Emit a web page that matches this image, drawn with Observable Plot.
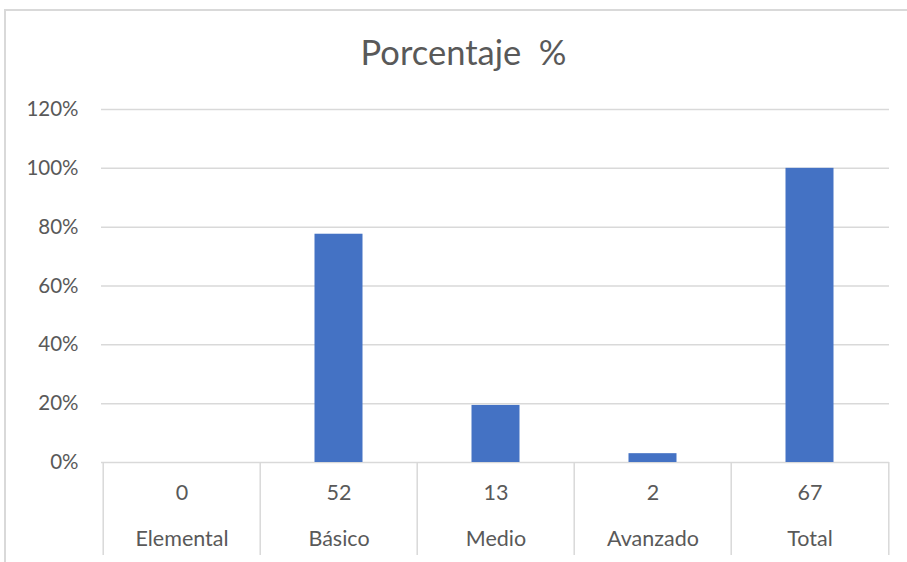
<!DOCTYPE html>
<html>
<head>
<meta charset="utf-8">
<script src="https://cdn.jsdelivr.net/npm/d3@7"></script>
<script src="https://cdn.jsdelivr.net/npm/@observablehq/plot@0.6"></script>
<style>
  html, body { margin: 0; padding: 0; background: #fff; }
  #wrap { position: relative; width: 907px; height: 562px; overflow: hidden; }
  #frame { position: absolute; left: 4px; top: 9px; width: 920px; height: 600px; border: 2px solid #d9d9d9; box-sizing: border-box; pointer-events: none; }
  #title { position: absolute; left: 0; top: 0; width: 907px; height: 90px; box-sizing: border-box; padding-left: 20px; padding-top: 35px; text-align: center; font-family: Lato, "Open Sans", sans-serif; font-size: 34.5px; color: #595959; white-space: pre; line-height: 1; }
  #chart { position: absolute; left: 0; top: 90px; }
</style>
</head>
<body>
<div id="wrap">
  <div id="title"></div>
  <div id="chart"></div>
  <div id="frame"></div>
</div>
<script>
const titleText = "Porcentaje  %";
const categories = ["Elemental", "Básico", "Medio", "Avanzado", "Total"];
const counts = [0, 52, 13, 2, 67];
const percentages = [0, 0.776, 0.194, 0.03, 1.0];
const yTicks = [0, 0.2, 0.4, 0.6, 0.8, 1.0, 1.2];

document.getElementById("title").textContent = titleText;

const data = categories.map((c, i) => ({category: c, count: counts[i], pct: percentages[i]}));

const W = 907, H = 472, mL = 101, mR = 18, mT = 19, mB = 100;
const step = (W - mL - mR) / categories.length;
const textColor = "#595959";
const gridColor = "#d9d9d9";

const chart = Plot.plot({
  width: W,
  height: H,
  marginLeft: mL,
  marginRight: mR,
  marginTop: mT,
  marginBottom: mB,
  style: {fontFamily: "Lato, 'Open Sans', sans-serif", fontSize: "19px", color: textColor, background: "transparent"},
  x: {domain: categories, padding: 0, axis: null},
  y: {domain: [0, 1.2], ticks: yTicks, tickFormat: d3.format(".0%"), label: null},
  marks: [
    Plot.gridY(yTicks, {stroke: gridColor, strokeOpacity: 1, strokeWidth: 1.5}),
    Plot.axisY(yTicks, {tickSize: 0, tickPadding: 23, tickFormat: d3.format(".0%"), fontSize: 20.5, fill: textColor, label: null}),
    Plot.barY(data, {x: "category", y: "pct", fill: "#4472c4", insetLeft: 54.5, insetRight: 54.5}),
    Plot.ruleX(data, {x: "category", y1: 0, y2: 0, dx: -step / 2, insetBottom: -93, stroke: gridColor, strokeWidth: 1.5}),
    Plot.ruleX(data.slice(-1), {x: "category", y1: 0, y2: 0, dx: step / 2, insetBottom: -93, stroke: gridColor, strokeWidth: 1.5}),
    Plot.text(data, {x: "category", text: d => String(d.count), frameAnchor: "bottom", dy: 37, fill: textColor, fontSize: 21.5}),
    Plot.text(data, {x: "category", text: "category", frameAnchor: "bottom", dy: 83, fill: textColor, fontSize: 21.5})
  ]
});
document.getElementById("chart").appendChild(chart);
</script>
</body>
</html>
